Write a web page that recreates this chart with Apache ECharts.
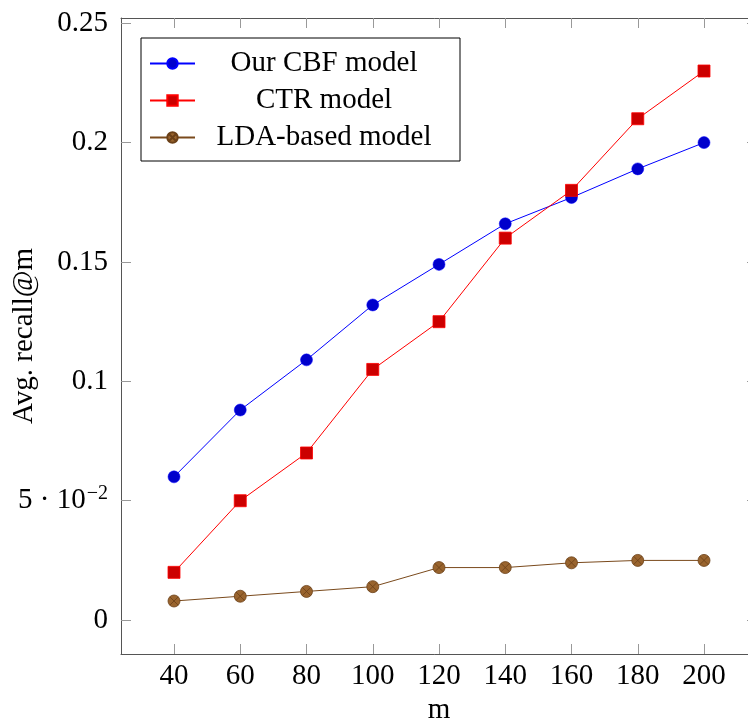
<!DOCTYPE html>
<html>
<head>
<meta charset="utf-8">
<script src="https://cdn.jsdelivr.net/npm/echarts@6/dist/echarts.min.js"></script>
<style>
html,body{margin:0;padding:0;background:#fff;}
#chart{width:748px;height:722px;}
</style>
</head>
<body>
<div id="chart"></div>
<script>
var xValues = [40, 60, 80, 100, 120, 140, 160, 180, 200];
var cbfValues = [0.060, 0.088, 0.109, 0.132, 0.149, 0.166, 0.177, 0.189, 0.200];
var ctrValues = [0.020, 0.050, 0.070, 0.105, 0.125, 0.160, 0.180, 0.210, 0.230];
var ldaValues = [0.008, 0.010, 0.012, 0.014, 0.022, 0.022, 0.024, 0.025, 0.025];
var seriesNames = ['Our CBF model', 'CTR model', 'LDA-based model'];
var yTicks = [0, 0.05, 0.1, 0.15, 0.2, 0.25];
var yTickLabels = ['0', '{n|5 · 10}{s|−2}', '0.1', '0.15', '0.2', '0.25'];
var xTicks = [40, 60, 80, 100, 120, 140, 160, 180, 200];
var xAxisName = 'm';
var yAxisName = 'Avg. recall@m';

var FONT = '"Liberation Serif", "DejaVu Serif", serif';
var FS = 29;

function pairs(vals) {
  return xValues.map(function (x, i) { return [x, vals[i]]; });
}

var otimes = 'path://M10,0 A10,10 0 1,1 -10,0 A10,10 0 1,1 10,0 Z M-7.07,-7.07 L7.07,7.07 M-7.07,7.07 L7.07,-7.07';

var axisLineStyle = { color: '#555', width: 1 };
var tickStyle = { color: '#999', width: 1 };

function xAxisCfg(pos, showLabel) {
  return {
    type: 'value', position: pos, min: 24, max: 216,
    name: showLabel ? xAxisName : '',
    nameLocation: 'middle', nameGap: 42, nameMoveOverlap: false,
    nameTextStyle: { fontFamily: FONT, fontSize: FS, color: '#000' },
    axisLine: { show: true, onZero: false, lineStyle: axisLineStyle },
    axisTick: { show: true, inside: true, length: 10, customValues: xTicks, lineStyle: tickStyle },
    axisLabel: { show: showLabel, customValues: xTicks, margin: 8, fontFamily: FONT, fontSize: FS, color: '#000' },
    splitLine: { show: false }
  };
}
function yAxisCfg(pos, showLabel) {
  return {
    type: 'value', position: pos, min: -0.0142, max: 0.2522,
    name: showLabel ? yAxisName : '',
    nameLocation: 'middle', nameGap: 82, nameRotate: 90, nameMoveOverlap: false,
    nameTextStyle: { fontFamily: FONT, fontSize: FS, color: '#000' },
    axisLine: { show: true, onZero: false, lineStyle: axisLineStyle },
    axisTick: { show: true, inside: true, length: 10, customValues: yTicks, lineStyle: tickStyle },
    axisLabel: {
      show: showLabel, customValues: yTicks, margin: 13,
      fontFamily: FONT, fontSize: FS, color: '#000',
      formatter: function (v) {
        for (var i = 0; i < yTicks.length; i++) {
          if (Math.abs(yTicks[i] - v) < 1e-9) return yTickLabels[i];
        }
        return '';
      },
      rich: {
        n: { fontFamily: FONT, fontSize: FS, color: '#000' },
        s: { fontFamily: FONT, fontSize: 20, color: '#000', verticalAlign: 'top', padding: [0, 0, 14, 1] }
      }
    },
    splitLine: { show: false }
  };
}

var chart = echarts.init(document.getElementById('chart'), null, { renderer: 'canvas' });
chart.setOption({
  animation: false,
  backgroundColor: '#fff',
  grid: { left: 121, top: 18, right: -9, bottom: 68, containLabel: false, outerBoundsMode: 'none' },
  xAxis: [xAxisCfg('bottom', true), xAxisCfg('top', false)],
  yAxis: [yAxisCfg('left', true), yAxisCfg('right', false)],
  legend: {
    orient: 'vertical', left: 141, top: 38,
    padding: [11, 12, 9, 8], itemGap: 8,
    itemWidth: 45, itemHeight: 13,
    backgroundColor: '#fff', borderColor: '#000', borderWidth: 1,
    data: seriesNames,
    formatter: function (name) { return '{c|' + name + '}'; },
    textStyle: {
      fontFamily: FONT, fontSize: FS, color: '#000',
      rich: { c: { width: 248, align: 'center', fontFamily: FONT, fontSize: FS, lineHeight: 30, color: '#000' } }
    }
  },
  series: [
    {
      name: seriesNames[0], type: 'line', data: pairs(cbfValues),
      symbol: 'circle', symbolSize: 12,
      lineStyle: { color: '#0000ff', width: 1 },
      itemStyle: { color: '#0000cc', borderColor: '#0000ff', borderWidth: 0.5 }
    },
    {
      name: seriesNames[1], type: 'line', data: pairs(ctrValues),
      symbol: 'rect', symbolSize: 12,
      lineStyle: { color: '#ff0000', width: 1 },
      itemStyle: { color: '#cc0000', borderColor: '#ff0000', borderWidth: 0.8 }
    },
    {
      name: seriesNames[2], type: 'line', data: pairs(ldaValues),
      symbol: otimes, symbolSize: 12,
      lineStyle: { color: '#7a4a1c', width: 1 },
      itemStyle: { color: '#99642e', borderColor: '#6b4018', borderWidth: 0.8 }
    }
  ]
});
</script>
</body>
</html>
